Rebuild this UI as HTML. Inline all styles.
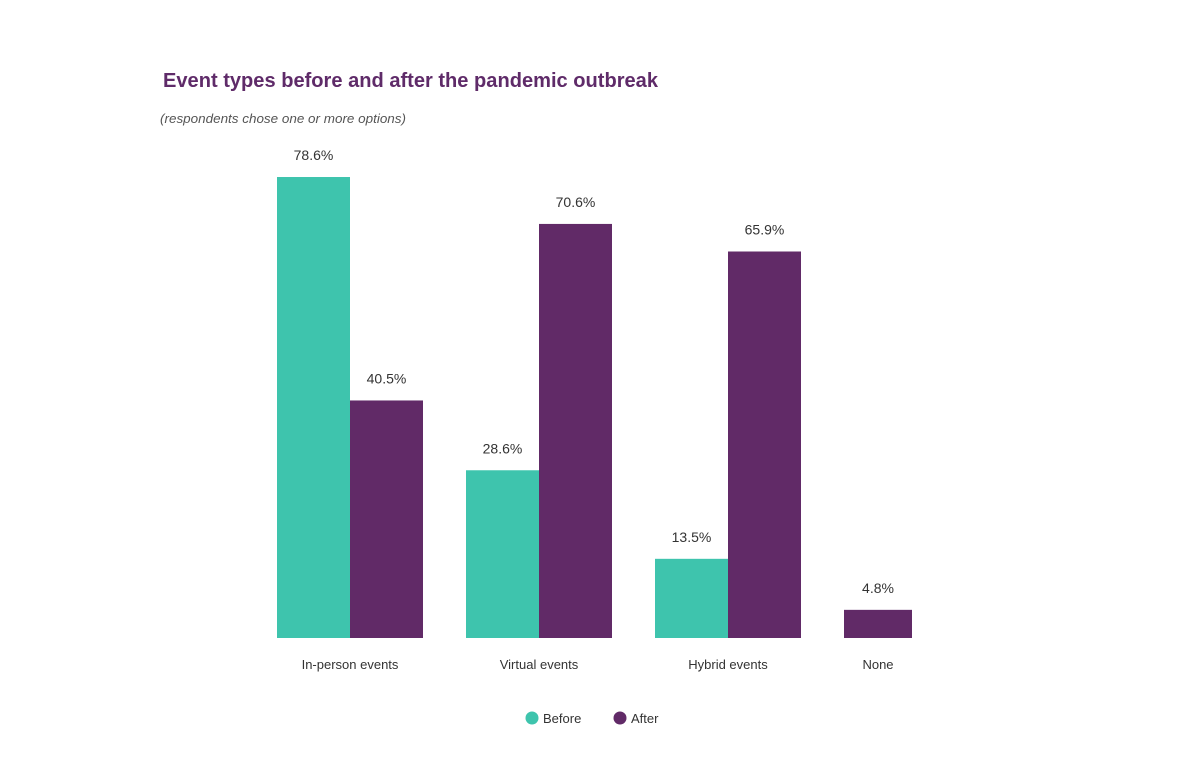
<!DOCTYPE html>
<html><head><meta charset="utf-8"><style>
body{margin:0;background:#fff;}
svg{display:block;font-family:"Liberation Sans",sans-serif;}
</style></head><body>
<svg id="chart" width="1183" height="779" viewBox="0 0 1183 779">
<text x="163" y="87" font-size="20" font-weight="bold" fill="#5f2b69" textLength="495" lengthAdjust="spacingAndGlyphs">Event types before and after the pandemic outbreak</text>
<text x="160" y="123" font-size="13" font-style="italic" fill="#555" textLength="246" lengthAdjust="spacingAndGlyphs">(respondents chose one or more options)</text>
<g id="bars"></g>
<g>
<g><circle cx="532" cy="718" r="6.5" fill="#3ec4ad"/><text x="543" y="723" font-size="13" fill="#333">Before</text></g>
<g><circle cx="620" cy="718" r="6.5" fill="#612a67"/><text x="631" y="723" font-size="13" fill="#333">After</text></g>
</g>
</svg>
<script>
const categories=["In-person events","Virtual events","Hybrid events","None"];
const beforeValues=[78.6,28.6,13.5,null];
const afterValues=[40.5,70.6,65.9,4.8];
const NS="http://www.w3.org/2000/svg";
const g=document.getElementById('bars');
const baseY=638, pxPer=5.865, barW=73, gap=43, startX=277;
function y(v){return baseY-v*pxPer;}
function mk(t,a){const e=document.createElementNS(NS,t);for(const k in a)e.setAttribute(k,a[k]);g.appendChild(e);return e;}
let x=startX;
categories.forEach((c,i)=>{
  const series=[[beforeValues[i],"#3ec4ad","before"],[afterValues[i],"#612a67","after"]].filter(s=>s[0]!=null);
  const x0=x;
  const w=series.length===1?68:barW;
  series.forEach(s=>{
    const r=mk('rect',{x:x,y:y(s[0]),width:w,height:s[0]*pxPer,fill:s[1]});
    
    
    const t=mk('text',{x:x+w/2,y:y(s[0])-17,'font-size':14,fill:'#333','text-anchor':'middle'});
    t.textContent=s[0].toFixed(1)+'%';
    
    
    x+=w;
  });
  const l=mk('text',{x:(x0+x)/2,y:669,'font-size':13,fill:'#333','text-anchor':'middle'});
  l.textContent=c;
  
  
  x+=gap;
});
</script>
</body></html>
